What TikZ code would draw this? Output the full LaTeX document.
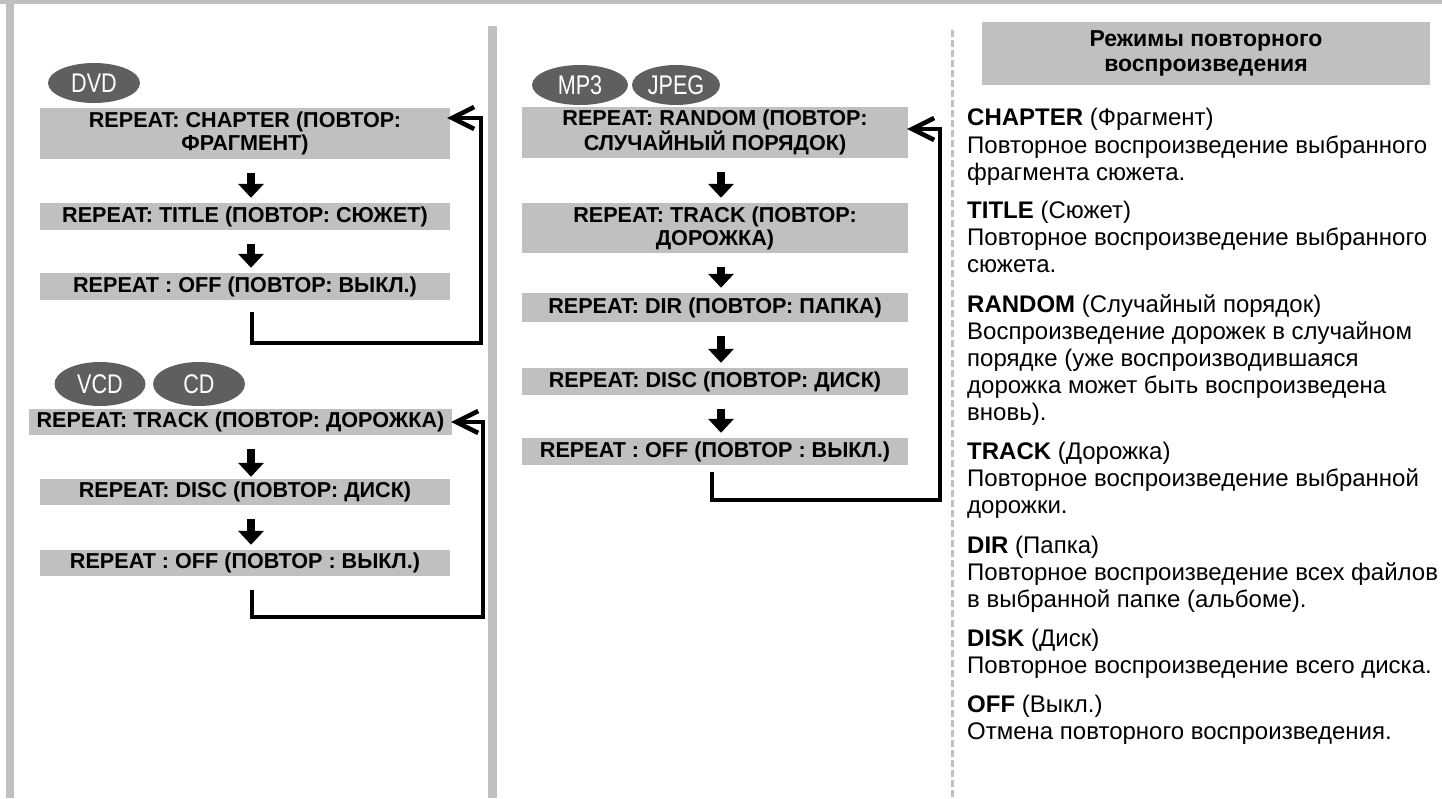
\documentclass[tikz,border=0pt]{standalone}
\usepackage{fontspec}
\setmainfont{Liberation Sans}
\newfontfamily\badgefont[FakeStretch=0.8]{Liberation Sans}
\usetikzlibrary{arrows.meta,shapes.geometric}
\definecolor{boxgray}{HTML}{C0C0C0}
\definecolor{badgegray}{HTML}{5F5F5F}
\tikzset{
  stepbox/.style={fill=boxgray, inner sep=0pt, minimum width=410pt, align=center,
    font=\fontsize{21.6}{23}\selectfont\bfseries},
  badge/.style={ellipse, fill=badgegray, text=white, inner sep=0pt,
    minimum height=40pt, font=\badgefont\fontsize{27}{27}\selectfont},
  downarr/.style={line width=8pt, -{Triangle[length=14pt,width=25pt]},
    shorten <=14pt, shorten >=5pt},
  loopline/.style={line width=4.5pt, line join=miter, -{Straight Barb[length=22pt,width=22pt]}},
  desc/.style={anchor=base west, inner sep=0pt, font=\fontsize{24}{27}\selectfont},
}
\begin{document}
\begin{tikzpicture}[x=1pt,y=-1pt]
\useasboundingbox (0,0) rectangle (1442,798);
% frame pieces
\fill[boxgray] (0,0) rectangle (1442,4);
\fill[boxgray] (6,0) rectangle (14,798);
\fill[boxgray] (488,26) rectangle (497,798);
\draw[boxgray, line width=3pt, dash pattern=on 7pt off 3pt] (952,30) -- (952,798);

% ---------- DVD ----------
\node[badge, minimum width=92pt] (dvd) at (94,83) {DVD};
\node[stepbox, minimum height=51pt] (d1) at (245,133.5) {REPEAT: CHAPTER (ПОВТОР:\\ФРАГМЕНТ)};
\node[stepbox, minimum height=27pt] (d2) at (245,216.5) {REPEAT: TITLE (ПОВТОР: СЮЖЕТ)};
\node[stepbox, minimum height=27pt] (d3) at (245,286.5) {REPEAT : OFF (ПОВТОР: ВЫКЛ.)};
\draw[downarr] ([xshift=6pt]d1.south) -- ([xshift=6pt]d2.north);
\draw[downarr] ([xshift=6pt]d2.south) -- ([xshift=6pt]d3.north);
\coordinate (dc) at (481,343);
\draw[loopline] ([xshift=7pt,yshift=-12pt]d3.south) |- (dc) |- ([xshift=-3pt,yshift=15.5pt]d1.east);

% ---------- VCD / CD ----------
\node[badge, minimum width=91pt, minimum height=44pt] (vcd) at (100,384) {VCD};
\node[badge, minimum width=92pt, minimum height=44pt] (cd) at (199,384) {CD};
\node[stepbox, minimum width=423pt, minimum height=26pt] (v1) at (240.5,422) {REPEAT: TRACK (ПОВТОР: ДОРОЖКА)};
\node[stepbox, minimum height=26pt] (v2) at (245,492) {REPEAT: DISC (ПОВТОР: ДИСК)};
\node[stepbox, minimum height=26pt] (v3) at (245,563) {REPEAT : OFF (ПОВТОР : ВЫКЛ.)};
\draw[downarr, shorten >=2pt] ([xshift=6pt]v2.north |- v1.south) -- ([xshift=6pt]v2.north);
\draw[downarr] ([xshift=6pt]v2.south) -- ([xshift=6pt]v3.north);
\coordinate (vc) at (483,617);
\draw[loopline] ([xshift=7pt,yshift=-14pt]v3.south) |- (vc) |- ([xshift=-1pt]v1.east);

% ---------- MP3 / JPEG ----------
\node[badge, minimum width=96pt] (mp3) at (580,85) {MP3};
\node[badge, minimum width=88pt] (jpeg) at (676,85) {JPEG};
\node[stepbox, minimum width=386pt, minimum height=51pt] (m1) at (715,132.5) {REPEAT: RANDOM (ПОВТОР:\\СЛУЧАЙНЫЙ ПОРЯДОК)};
\node[stepbox, minimum width=386pt, minimum height=50pt] (m2) at (715,228) {REPEAT: TRACK (ПОВТОР:\\ДОРОЖКА)};
\node[stepbox, minimum width=386pt, minimum height=29pt] (m3) at (715,307.5) {REPEAT: DIR (ПОВТОР: ПАПКА)};
\node[stepbox, minimum width=386pt, minimum height=27pt] (m4) at (715,381.5) {REPEAT: DISC (ПОВТОР: ДИСК)};
\node[stepbox, minimum width=386pt, minimum height=27pt] (m5) at (715,451.5) {REPEAT : OFF (ПОВТОР : ВЫКЛ.)};
\draw[downarr] ([xshift=6pt]m1.south) -- ([xshift=6pt]m2.north);
\draw[downarr] ([xshift=6pt]m2.south) -- ([xshift=6pt]m3.north);
\draw[downarr] ([xshift=6pt]m3.south) -- ([xshift=6pt]m4.north);
\draw[downarr] ([xshift=6pt]m4.south) -- ([xshift=6pt]m5.north);
\coordinate (mc) at (940,500);
\draw[loopline] ([xshift=-3pt,yshift=-7pt]m5.south) |- (mc) |- ([xshift=-1pt,yshift=3.5pt]m1.east);

% ---------- description ----------
\node[fill=boxgray, inner sep=0pt, minimum width=448pt, minimum height=63pt, align=center,
  font=\fontsize{23}{25}\selectfont\bfseries] (title) at (1206,53.5) {Режимы повторного\\воспроизведения};
\node[desc] (r1) at (967,125) {\textbf{CHAPTER} (Фрагмент)};
\node[desc] (r2) at (967,153) {Повторное воспроизведение выбранного};
\node[desc] (r3) at (967,180) {фрагмента сюжета.};
\node[desc] (r4) at (967,218) {\textbf{TITLE} (Сюжет)};
\node[desc] (r5) at (967,245) {Повторное воспроизведение выбранного};
\node[desc] (r6) at (967,272) {сюжета.};
\node[desc] (r7) at (967,312) {\textbf{RANDOM} (Случайный порядок)};
\node[desc] (r8) at (967,339) {Воспроизведение дорожек в случайном};
\node[desc] (r9) at (967,366) {порядке (уже воспроизводившаяся};
\node[desc] (r10) at (967,393) {дорожка может быть воспроизведена};
\node[desc] (r11) at (967,420) {вновь).};
\node[desc] (r12) at (967,459) {\textbf{TRACK} (Дорожка)};
\node[desc] (r13) at (967,486) {Повторное воспроизведение выбранной};
\node[desc] (r14) at (967,513) {дорожки.};
\node[desc] (r15) at (967,553) {\textbf{DIR} (Папка)};
\node[desc] (r16) at (967,580) {Повторное воспроизведение всех файлов};
\node[desc] (r17) at (967,607) {в выбранной папке (альбоме).};
\node[desc] (r18) at (967,646) {\textbf{DISK} (Диск)};
\node[desc] (r19) at (967,673) {Повторное воспроизведение всего диска.};
\node[desc] (r20) at (967,712) {\textbf{OFF} (Выкл.)};
\node[desc] (r21) at (967,739) {Отмена повторного воспроизведения.};
\end{tikzpicture}
\end{document}
